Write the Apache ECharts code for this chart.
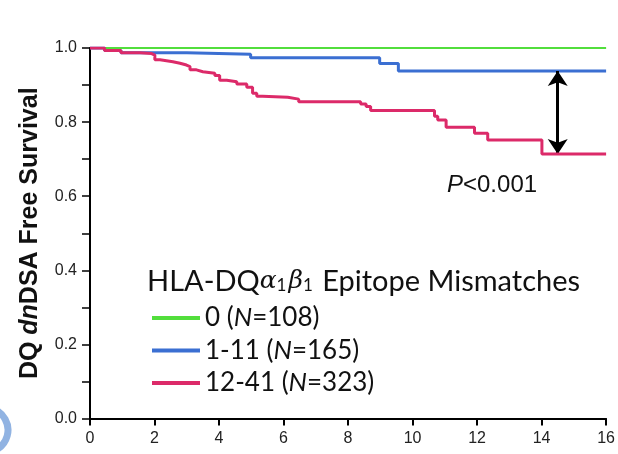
<!DOCTYPE html>
<html>
<head>
<meta charset="utf-8">
<script src="https://cdn.jsdelivr.net/npm/echarts@6/dist/echarts.min.js"></script>
<style>
  html, body { margin: 0; padding: 0; background: #fff; }
  #chart { width: 618px; height: 454px; }
</style>
</head>
<body>
<div id="chart"></div>
<script>
// Kaplan-Meier curves: DQ dnDSA free survival by epitope mismatch group (years)
const groupNames = ['0', '1-11', '12-41'];
const groupN = [108, 165, 323];
const groupColors = ['#52de3c', '#3b6fd2', '#dc2a69'];

const timeG0 = [0, 16];
const survG0 = [1.0, 1.0];

const timeG1 = [0, 0.45, 0.96, 3.0, 4.98, 8.98, 9.56, 16];
const survG1 = [1.0, 0.993, 0.987, 0.983, 0.974, 0.958, 0.938, 0.938];

const timeG2 = [0, 0.45, 0.96, 1.55, 1.91, 2.01, 2.17, 2.57, 2.79, 2.99, 3.10, 3.30,
  3.50, 3.87, 4.02, 4.24, 4.55, 4.86, 5.04, 5.17, 5.35, 6.13, 6.47, 8.39, 8.56,
  8.70, 10.68, 10.78, 11.04, 11.92, 12.33, 14.01, 16];
const survG2 = [1.0, 0.993, 0.987, 0.985, 0.981, 0.968, 0.963, 0.959, 0.954, 0.950, 0.941, 0.936,
  0.932, 0.926, 0.913, 0.909, 0.903, 0.894, 0.878, 0.870, 0.867, 0.862, 0.855, 0.849, 0.842,
  0.831, 0.816, 0.806, 0.786, 0.770, 0.752, 0.714, 0.714];

const xMin = 0, xMax = 16, xStep = 2;
const yMin = 0, yMax = 1, yStep = 0.2;
const arrowTime = 14.5;
const pValueText = 'P<0.001';

const pairs = (t, s) => t.map((v, i) => [v, s[i]]);
const seriesData = [pairs(timeG0, survG0), pairs(timeG1, survG1), pairs(timeG2, survG2)];
const lineWidths = [2, 3, 3];

const sansFont = '"Liberation Sans", Arial, Helvetica, sans-serif';
const legendFont = 'Lato, "Open Sans", sans-serif';

const series = groupNames.map((name, i) => ({
  name: name,
  type: 'line',
  step: 'end',
  data: seriesData[i],
  showSymbol: false,
  symbol: 'none',
  silent: true,
  z: 3 + i,
  lineStyle: { color: groupColors[i], width: lineWidths[i] },
  itemStyle: { color: groupColors[i] }
}));

// double-headed arrow between the final values of the 1-11 and 12-41 curves
series[1].markLine = {
  silent: true,
  symbol: ['arrow', 'arrow'],
  symbolSize: [15, 15],
  label: { show: false },
  lineStyle: { color: '#000', width: 3, type: 'solid' },
  data: [[
    { coord: [arrowTime, survG1[survG1.length - 1]] },
    { coord: [arrowTime, survG2[survG2.length - 1]] }
  ]]
};

const chart = echarts.init(document.getElementById('chart'), null, { renderer: 'canvas' });
chart.setOption({
  animation: false,
  backgroundColor: '#fff',
  grid: { left: 90, right: 11, top: 48, bottom: 35.5 },
  title: {
    left: 142, top: 262,
    text: '{t|HLA-DQ}{g|α}{s|1}{g|β}{s|1}{t| Epitope Mismatches}',
    textStyle: {
      fontWeight: 'normal',
      rich: {
        t: { fontFamily: legendFont, fontWeight: 'normal', fontSize: 29, color: '#111' },
        g: { fontFamily: 'DejaVu Serif, serif', fontWeight: 'normal', fontStyle: 'italic', fontSize: 25, color: '#111' },
        s: { fontFamily: legendFont, fontWeight: 'normal', fontSize: 17, color: '#111', padding: [9, 2, 0, 0] }
      }
    }
  },
  legend: {
    orient: 'vertical',
    left: 147, top: 298,
    icon: 'rect',
    itemWidth: 48, itemHeight: 4,
    itemGap: 2.5,
    itemStyle: { borderWidth: 0 },
    selectedMode: false,
    data: groupNames,
    formatter: name => name + ' ({i|N}=' + groupN[groupNames.indexOf(name)] + ')',
    textStyle: {
      fontFamily: legendFont, fontSize: 26, color: '#111', lineHeight: 30,
      rich: {
        i: { fontFamily: legendFont, fontSize: 26, fontStyle: 'italic', color: '#111', lineHeight: 30 }
      }
    }
  },
  graphic: [{
    type: 'text',
    left: 447, top: 173,
    silent: true,
    style: {
      text: '{i|P}{n|' + pValueText.slice(1) + '}',
      rich: {
        i: { fontFamily: sansFont, fontStyle: 'italic', fontSize: 24, fill: '#111' },
        n: { fontFamily: sansFont, fontSize: 24, fill: '#111' }
      }
    }
  }, {
    // partial blue ring at the lower-left edge of the figure
    type: 'arc',
    silent: true,
    shape: { cx: -14, cy: 430, r: 22, startAngle: -1.3, endAngle: 1.3 },
    style: { stroke: '#6c9ad8', lineWidth: 7, fill: null, opacity: 0.75 }
  }],
  xAxis: {
    type: 'value',
    min: xMin, max: xMax, interval: xStep,
    axisLine: { show: true, lineStyle: { color: '#000', width: 2 } },
    axisTick: { show: true, length: 7, lineStyle: { color: '#000', width: 2 } },
    splitLine: { show: false },
    axisLabel: { fontFamily: sansFont, fontSize: 16, color: '#222', margin: 12 }
  },
  yAxis: {
    type: 'value',
    min: yMin, max: yMax, interval: yStep,
    name: '{b|DQ }{bi|dn}{b|DSA Free Survival}',
    nameLocation: 'middle',
    nameRotate: 90,
    nameGap: 47,
    nameTextStyle: {
      rich: {
        b: { fontFamily: sansFont, fontWeight: 'bold', fontSize: 25, color: '#111' },
        bi: { fontFamily: sansFont, fontWeight: 'bold', fontStyle: 'italic', fontSize: 25, color: '#111' }
      }
    },
    axisLine: { show: true, lineStyle: { color: '#000', width: 2 } },
    axisTick: { show: true, length: 8, lineStyle: { color: '#000', width: 1.5 } },
    minorTick: { show: true, splitNumber: 2, length: 8, lineStyle: { color: '#000', width: 1.5 } },
    splitLine: { show: false },
    axisLabel: { fontFamily: sansFont, fontSize: 16, color: '#222', margin: 13, formatter: v => v.toFixed(1) }
  },
  series: series
});
</script>
</body>
</html>
